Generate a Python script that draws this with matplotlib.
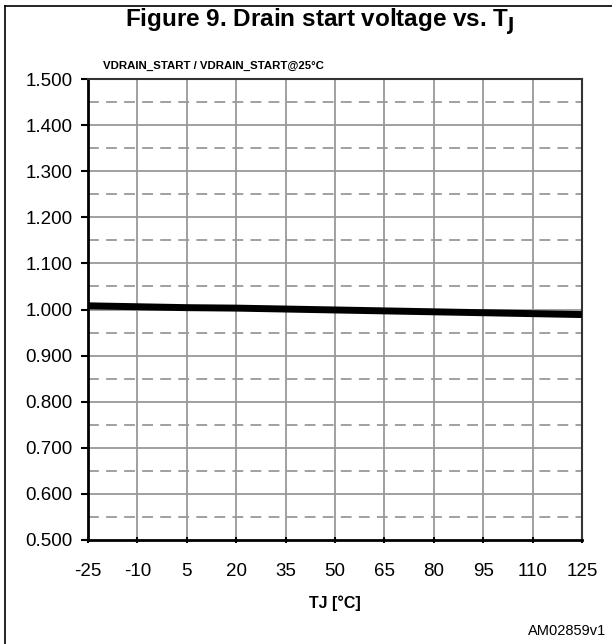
import numpy as np
import matplotlib.pyplot as plt
from matplotlib.lines import Line2D

plt.rcParams['font.family'] = ['Liberation Sans', 'DejaVu Sans']
plt.rcParams['axes.unicode_minus'] = False

# junction temperature (°C) and normalized drain start voltage
tj = [-25, -10, 5, 20, 35, 50, 65, 80, 95, 110, 125]
v_ratio = [1.008, 1.006, 1.004, 1.003, 1.001, 0.999, 0.997, 0.995, 0.993, 0.991, 0.989]

x_ticks = [-25, -10, 5, 20, 35, 50, 65, 80, 95, 110, 125]
y_ticks = np.arange(0.5, 1.501, 0.1)
y_minor = np.arange(0.55, 1.5, 0.1)

fig = plt.figure(figsize=(6.12, 6.44), dpi=100)
ax = fig.add_axes([88 / 612, 1 - 540 / 644, (582 - 88) / 612, (540 - 79) / 644])

# gridlines
for x in x_ticks[1:-1]:
    ax.axvline(x, color='#999999', lw=1.3, zorder=1)
for y in y_ticks[1:-1]:
    ax.axhline(y, color='#999999', lw=1.3, zorder=1)
for y in y_minor:
    ax.axhline(y, color='#999999', lw=1.3, ls=(0, (6, 4)), zorder=1)

ax.plot(tj, v_ratio, color='black', lw=5, solid_capstyle='butt', zorder=3)

ax.set_xlim(-25, 125)
ax.set_ylim(0.5, 1.5)
ax.set_xticks(x_ticks)
ax.set_yticks(y_ticks)
ax.set_yticklabels(['%.3f' % v for v in y_ticks])
ax.tick_params(axis='both', labelsize=13.5, color='black', width=1.5, length=5)
ax.tick_params(axis='x', direction='inout', pad=14)
ax.tick_params(axis='y', direction='out', pad=6)
for side in ['left', 'bottom']:
    ax.spines[side].set_linewidth(2)
for side in ['top', 'right']:
    ax.spines[side].set_linewidth(1.5)
    ax.spines[side].set_color('#333333')

ax.set_xlabel('TJ [°C]', fontsize=11.5, fontweight='bold', labelpad=11)

fig.text(0.522, 1 - 22 / 644, 'Figure 9. Drain start voltage vs. T$_\\mathbf{J}$',
         ha='center', va='center', fontsize=17.5, fontweight='bold')
fig.text(103 / 612, 1 - 66 / 644, 'VDRAIN_START / VDRAIN_START@25°C',
         ha='left', va='center', fontsize=8.2, fontweight='bold')
fig.text(606 / 612, 1 - 631 / 644, 'AM02859v1', ha='right', va='center', fontsize=10.5)

# outer frame (top and left edges)
fig.add_artist(Line2D([5 / 612, 5 / 612], [0, 1 - 6 / 644], color='black', lw=1.2,
                      transform=fig.transFigure))
fig.add_artist(Line2D([5 / 612, 1], [1 - 6 / 644, 1 - 6 / 644], color='black', lw=1.2,
                      transform=fig.transFigure))

fig.savefig('out.png', dpi=100)
